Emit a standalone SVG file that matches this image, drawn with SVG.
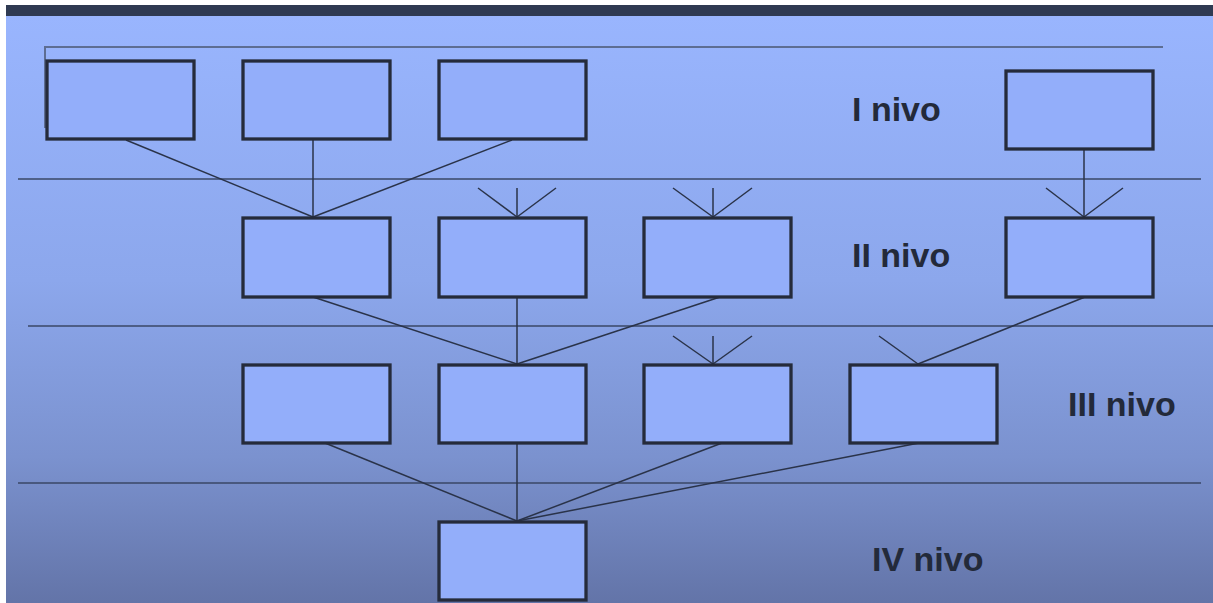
<svg xmlns="http://www.w3.org/2000/svg" width="1213" height="603" viewBox="0 0 1213 603">
<defs>
<linearGradient id="bg" x1="0" y1="0" x2="0" y2="1">
<stop offset="0" stop-color="#99b5fe"/>
<stop offset="0.45" stop-color="#8ca7ec"/>
<stop offset="0.75" stop-color="#7b92cf"/>
<stop offset="1" stop-color="#6374a8"/>
</linearGradient>
<style>
.box{fill:#93aefa;stroke:#252b3b;stroke-width:3.3}
.c{stroke:#2a3349;stroke-width:1.5;fill:none}
.sep{stroke:#3a4766;stroke-width:1.5;fill:none}
.lbl{font-family:"Liberation Sans",Arial,sans-serif;font-weight:bold;font-size:34px;fill:#232a3a}
</style>
</defs>
<rect x="0" y="0" width="1213" height="603" fill="#ffffff"/>
<rect x="6" y="16" width="1207" height="587" fill="url(#bg)"/>
<rect x="6" y="5" width="1207" height="11" fill="#2f3a52"/>
<g id="separators">
<path d="M45 128 V47 H1163" style="stroke:#5d6d93;stroke-width:2;fill:none"/>
<line class="sep" x1="18" y1="179" x2="1201" y2="179"/>
<line class="sep" x1="28" y1="326" x2="1213" y2="326"/>
<line class="sep" x1="18" y1="483" x2="1201" y2="483"/>
</g>
<g id="connectors">
<line class="c" x1="126" y1="140" x2="313" y2="217"/>
<line class="c" x1="313" y1="140" x2="313" y2="217"/>
<line class="c" x1="512" y1="140" x2="313" y2="217"/>
<line class="c" x1="1084" y1="150" x2="1084" y2="217"/>
<line class="c" x1="1046" y1="188" x2="1084" y2="217"/>
<line class="c" x1="1123" y1="188" x2="1084" y2="217"/>
<line class="c" x1="517" y1="188" x2="517" y2="217"/>
<line class="c" x1="478" y1="188" x2="517" y2="217"/>
<line class="c" x1="556" y1="188" x2="517" y2="217"/>
<line class="c" x1="713" y1="188" x2="713" y2="217"/>
<line class="c" x1="673" y1="188" x2="713" y2="217"/>
<line class="c" x1="752" y1="188" x2="713" y2="217"/>
<line class="c" x1="313" y1="297" x2="517" y2="364"/>
<line class="c" x1="517" y1="297" x2="517" y2="364"/>
<line class="c" x1="720" y1="297" x2="517" y2="364"/>
<line class="c" x1="1085" y1="297" x2="918" y2="364"/>
<line class="c" x1="713" y1="336" x2="713" y2="364"/>
<line class="c" x1="673" y1="336" x2="713" y2="364"/>
<line class="c" x1="752" y1="336" x2="713" y2="364"/>
<line class="c" x1="879" y1="336" x2="918" y2="364"/>
<line class="c" x1="325" y1="443" x2="517" y2="521"/>
<line class="c" x1="517" y1="443" x2="517" y2="521"/>
<line class="c" x1="722" y1="443" x2="517" y2="521"/>
<line class="c" x1="919" y1="443" x2="517" y2="521"/>
</g>
<g id="n1a"><rect class="box" x="47" y="61" width="147" height="78"/></g>
<g id="n1b"><rect class="box" x="243" y="61" width="147" height="78"/></g>
<g id="n1c"><rect class="box" x="439" y="61" width="147" height="78"/></g>
<g id="n1d"><rect class="box" x="1006" y="71" width="147" height="78"/></g>
<g id="n2a"><rect class="box" x="243" y="218" width="147" height="79"/></g>
<g id="n2b"><rect class="box" x="439" y="218" width="147" height="79"/></g>
<g id="n2c"><rect class="box" x="644" y="218" width="147" height="79"/></g>
<g id="n2d"><rect class="box" x="1006" y="218" width="147" height="79"/></g>
<g id="n3a"><rect class="box" x="243" y="365" width="147" height="78"/></g>
<g id="n3b"><rect class="box" x="439" y="365" width="147" height="78"/></g>
<g id="n3c"><rect class="box" x="644" y="365" width="147" height="78"/></g>
<g id="n3d"><rect class="box" x="850" y="365" width="147" height="78"/></g>
<g id="n4a"><rect class="box" x="439" y="522" width="147" height="78"/></g>
<g id="labels">
<text class="lbl" x="852" y="121">I nivo</text>
<text class="lbl" x="852" y="267">II nivo</text>
<text class="lbl" x="1068" y="416">III nivo</text>
<text class="lbl" x="872" y="571">IV nivo</text>
</g>
</svg>
